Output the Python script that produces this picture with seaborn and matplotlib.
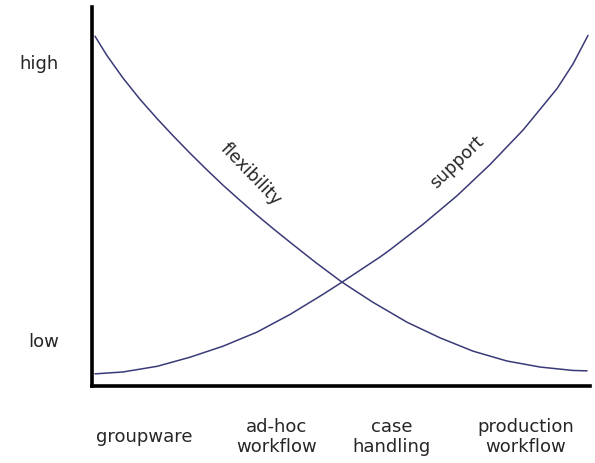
import pandas as pd
import seaborn as sns
import matplotlib.pyplot as plt

# --- data (x: 0-10, y: 0-10, arbitrary units) ---
flex_x = [0.06, 0.30, 0.62, 0.96, 1.31, 1.63, 1.97, 2.31, 2.63, 2.97, 3.31, 3.63, 3.98, 4.50,
          5.02, 5.64, 6.33, 6.99, 7.65, 8.33, 9.00, 9.66, 9.94]
flex_y = [9.23, 8.72, 8.13, 7.57, 7.05, 6.60, 6.14, 5.70, 5.30, 4.90, 4.51, 4.16, 3.79, 3.25,
          2.74, 2.21, 1.68, 1.27, 0.92, 0.66, 0.50, 0.41, 0.40]

supp_x = [0.06, 0.62, 1.31, 1.97, 2.63, 3.31, 3.98, 4.64, 5.02, 5.78, 5.98, 6.65, 7.33, 7.99,
          8.66, 9.34, 9.66, 9.96]
supp_y = [0.32, 0.37, 0.52, 0.76, 1.05, 1.42, 1.89, 2.42, 2.74, 3.40, 3.59, 4.27, 5.02, 5.84,
          6.76, 7.85, 8.50, 9.25]

categories = ['groupware', 'ad-hoc\nworkflow', 'case\nhandling', 'production\nworkflow']
cat_pos = [1.04, 3.71, 6.02, 8.71]
level_labels = ['low', 'high']
level_pos = [1.24, 8.58]

LINE_COLOR = '#3a3a78'
TEXT_COLOR = '#262626'

def main():
    df = pd.concat([
        pd.DataFrame({'x': flex_x, 'y': flex_y, 'serie': 'flexibility'}),
        pd.DataFrame({'x': supp_x, 'y': supp_y, 'serie': 'support'}),
    ], ignore_index=True)

    sns.set_style('white')
    plt.rcParams['font.family'] = ['DejaVu Sans']

    fig = plt.figure(figsize=(5.95, 4.64), dpi=100)
    ax = fig.add_axes([92 / 595, (464 - 387) / 464, (590 - 92) / 595, (387 - 8) / 464])

    sns.lineplot(data=df, x='x', y='y', hue='serie', units='serie', estimator=None, sort=False,
                 palette=[LINE_COLOR, LINE_COLOR], linewidth=1.1, legend=False, ax=ax)

    ax.set_xlim(0, 10)
    ax.set_ylim(0, 10)
    ax.set_xlabel('')
    ax.set_ylabel('')

    # etiquetas de las curvas
    ax.text(3.18, 5.60, 'flexibility', rotation=-46, ha='center', va='center',
            fontsize=12.5, color=TEXT_COLOR, rotation_mode='anchor')
    ax.text(7.33, 5.93, 'support', rotation=44, ha='center', va='center',
            fontsize=12.5, color=TEXT_COLOR, rotation_mode='anchor')

    # ejes
    ax.set_xticks(cat_pos)
    ax.set_xticklabels(categories, fontsize=13, color=TEXT_COLOR, va='center', linespacing=1.15)
    ax.set_yticks(level_pos)
    ax.set_yticklabels(level_labels, fontsize=13, color=TEXT_COLOR)
    ax.tick_params(axis='x', length=0, pad=36)
    ax.tick_params(axis='y', length=0, pad=24)

    for side in ['top', 'right']:
        ax.spines[side].set_visible(False)
    for side in ['left', 'bottom']:
        ax.spines[side].set_linewidth(2.6)
        ax.spines[side].set_color('black')

    fig.savefig('out.png', dpi=100)
    plt.close(fig)

if __name__ == "__main__":
    main()
